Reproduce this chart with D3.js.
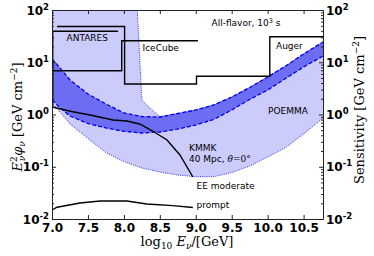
<!DOCTYPE html>
<html>
<head>
<meta charset="utf-8">
<script src="https://cdn.jsdelivr.net/npm/d3@7"></script>
<style>
body{margin:0;background:#fff}
text{font-family:"DejaVu Sans",sans-serif;fill:#000}
.serif{font-family:"DejaVu Serif",serif}
</style>
</head>
<body>
<svg id="chart" width="374" height="256"></svg>
<script>
//chart data

//POEMMA band, shared energies (log10 E / GeV)
var bandX = [7.0, 7.1, 7.25, 7.5, 7.75, 8.0, 8.25, 8.5, 8.75, 9.0, 9.25, 9.5, 9.75, 10.0, 10.25, 10.5, 10.77];
//dark band (dashed edges)
var poemmaHi = [11.5, 8.11, 4.57, 2.47, 1.59, 1.07, 0.916, 0.895, 1.045, 1.22, 1.52, 2.16, 3.29, 5.22, 8.48, 14.4, 24.4];
var poemmaLo = [1.90, 1.39, 0.936, 0.673, 0.552, 0.477, 0.443, 0.462, 0.527, 0.629, 0.802, 1.22, 1.94, 2.94, 4.89, 8.11, 13.2];
//light band (dotted edges)
var rangeLo = [1.66, 1.17, 0.658, 0.347, 0.187, 0.126, 0.0946, 0.0794, 0.0695, 0.0645, 0.0645, 0.0776, 0.103, 0.154, 0.233, 0.424, 0.857];
var rangeHiX = [7.0, 8.18, 8.25, 8.33, 8.5, 8.75, 9.0, 9.25, 9.5, 9.75, 10.0, 10.25, 10.5, 10.77];
var rangeHi = [150, 150, 1.89, 1.46, 0.91, 1.045, 1.22, 1.52, 2.16, 3.29, 5.22, 8.48, 14.4, 24.4];

//step sensitivities
var stepAX = [7.07, 8.01, 8.01, 9.01, 9.01, 10.03, 10.03, 10.77];
var stepAY = [48.3, 48.3, 3.84, 3.84, 5.38, 5.38, 30.8, 30.8];
var stepBX = [7.01, 7.97, 7.97, 9.03];
var stepBY = [6.89, 6.89, 25.8, 25.8];
var antaresX = [7.92, 7.01, 7.01];
var antaresY = [39.1, 39.1, 1.39];

//model fluxes
var kmmkX = [7.0, 7.29, 7.53, 7.85, 8.04, 8.22, 8.40, 8.60, 8.78, 8.96];
var kmmkY = [1.39, 1.13, 0.977, 0.785, 0.75, 0.658, 0.483, 0.325, 0.168, 0.0637];
var promptX = [7.0, 7.07, 7.39, 7.67, 7.76, 8.04, 8.32, 8.68, 8.96];
var promptY = [0.0149, 0.0168, 0.0202, 0.0221, 0.0221, 0.0221, 0.0194, 0.018, 0.0166];

//ticks
var xTicks = [7.0, 7.5, 8.0, 8.5, 9.0, 9.5, 10.0, 10.5];
var yTicks = [1e-2, 1e-1, 1, 10, 100];
var yTickExp = ["-2", "-1", "0", "1", "2"];

//plot box (window.top is reserved, so prefixed names)
var pLeft = 52, pRight = 323, pTop = 10, pBottom = 219;

var x = d3.scaleLinear().domain([7, 10.77]).range([pLeft, pRight]);
var y = d3.scaleLog().domain([1e-2, 1e2]).range([pBottom, pTop]);

var svg = d3.select("#chart");

svg.append("clipPath").attr("id", "plotclip")
	.append("rect").attr("x", pLeft).attr("y", pTop)
	.attr("width", pRight - pLeft).attr("height", pBottom - pTop);

var plot = svg.append("g").attr("clip-path", "url(#plotclip)");

function zipXY(xs, ys){
	return xs.map(function(v, i){ return {x: v, y: ys[i]}; });
}

var line = d3.line()
		.x(function(d){ return x(d.x); })
		.y(function(d){ return y(d.y); });

//light band polygon: upper edge forward, lower edge back
var rangePoly = zipXY(rangeHiX, rangeHi).concat(zipXY(bandX, rangeLo).reverse());
plot.append("path").attr("d", line(rangePoly) + "Z")
	.attr("fill", "#cbcbfc").attr("stroke", "none");

var band = d3.area()
		.x(function(d){ return x(d.x); })
		.y0(function(d){ return y(d.lo); })
		.y1(function(d){ return y(d.hi); });
var bandData = bandX.map(function(v, i){ return {x: v, lo: poemmaLo[i], hi: poemmaHi[i]}; });
plot.append("path").attr("d", band(bandData))
	.attr("fill", "#6d6df4").attr("stroke", "none");

//dotted edges
[zipXY(rangeHiX, rangeHi), zipXY(bandX, rangeLo)].forEach(function(d){
	plot.append("path").attr("d", line(d))
		.attr("fill", "none").attr("stroke", "#2f2fff")
		.attr("stroke-width", 1).attr("stroke-dasharray", "1,1.2");
});
//dashed edges
[zipXY(bandX, poemmaHi), zipXY(bandX, poemmaLo)].forEach(function(d){
	plot.append("path").attr("d", line(d))
		.attr("fill", "none").attr("stroke", "#0000f0")
		.attr("stroke-width", 1.3).attr("stroke-dasharray", "4,2");
});

//black lines
[[stepAX, stepAY], [stepBX, stepBY], [antaresX, antaresY], [kmmkX, kmmkY], [promptX, promptY]].forEach(function(s){
	plot.append("path").attr("d", line(zipXY(s[0], s[1])))
		.attr("fill", "none").attr("stroke", "#000")
		.attr("stroke-width", 1.4);
});

//axes
var minorTicks = [];
[1e-2, 1e-1, 1, 10].forEach(function(dec){
	for (var k = 2; k < 10; k++) minorTicks.push(dec * k);
});

function styleAxis(g){
	g.selectAll("path.domain").attr("stroke", "#222").attr("stroke-width", 1);
	g.selectAll(".tick line").attr("stroke", "#222");
}

svg.append("g").attr("transform", "translate(0," + pBottom + ")")
	.call(d3.axisBottom(x).tickValues(xTicks).tickSize(-4).tickSizeOuter(0).tickPadding(4)
		.tickFormat(d3.format(".1f")))
	.call(styleAxis)
	.selectAll("text").attr("font-size", 12).attr("font-weight", "bold")
	.style("font-family", "DejaVu Sans");

svg.append("g").attr("transform", "translate(0," + pTop + ")")
	.call(d3.axisTop(x).tickValues(xTicks).tickSize(-4).tickSizeOuter(0).tickFormat(""))
	.call(styleAxis);

[[d3.axisLeft, pLeft], [d3.axisRight, pRight]].forEach(function(a){
	svg.append("g").attr("transform", "translate(" + a[1] + ",0)")
		.call(a[0](y).tickValues(yTicks).tickSize(-4).tickSizeOuter(0).tickFormat(""))
		.call(styleAxis);
	svg.append("g").attr("transform", "translate(" + a[1] + ",0)")
		.call(a[0](y).tickValues(minorTicks).tickSize(-2).tickSizeOuter(0).tickFormat(""))
		.call(styleAxis)
		.select("path.domain").remove();
});

//y tick labels with exponents
function powLabel(sel, xpos, anchor){
	sel.attr("x", xpos).attr("text-anchor", anchor)
		.attr("dy", "0.38em").attr("font-size", 12).attr("font-weight", "bold");
	sel.append("tspan").text("10");
	sel.append("tspan").attr("font-size", 8.5).attr("dy", -5)
		.text(function(d, i){ return yTickExp[i]; });
}
svg.append("g").selectAll("text").data(yTicks).enter().append("text")
	.attr("y", function(d){ return y(d); })
	.call(powLabel, 49, "end");
svg.append("g").selectAll("text").data(yTicks).enter().append("text")
	.attr("y", function(d){ return y(d); })
	.call(powLabel, 326, "start");

//axis titles
var xl = svg.append("text").attr("class", "serif").attr("x", 187).attr("y", 246)
	.attr("text-anchor", "middle").attr("font-size", 13);
xl.append("tspan").text("log");
xl.append("tspan").attr("font-size", 9).attr("dy", 3).text("10");
xl.append("tspan").attr("dy", -3).attr("font-style", "italic").text(" E");
xl.append("tspan").attr("font-size", 9).attr("dy", 3).attr("font-style", "italic").text("ν");
xl.append("tspan").attr("dy", -3).text("/[GeV]");

var yl = svg.append("text").attr("class", "serif")
	.attr("transform", "translate(22,117) rotate(-90)")
	.attr("text-anchor", "middle").attr("font-size", 13);
yl.append("tspan").attr("font-style", "italic").text("E");
yl.append("tspan").attr("font-size", 9).attr("dy", -5).text("2");
yl.append("tspan").attr("font-size", 9).attr("dx", -5).attr("dy", 8).attr("font-style", "italic").text("ν");
yl.append("tspan").attr("dy", -3).attr("font-style", "italic").text("φ");
yl.append("tspan").attr("font-size", 9).attr("dy", 3).attr("font-style", "italic").text("ν");
yl.append("tspan").attr("dy", -3).text(" [GeV cm");
yl.append("tspan").attr("font-size", 9).attr("dy", -5).text("−2");
yl.append("tspan").attr("dy", 5).text("]");

var yr = svg.append("text").attr("class", "serif")
	.attr("transform", "translate(364,110) rotate(-90)")
	.attr("text-anchor", "middle").attr("font-size", 13);
yr.append("tspan").text("Sensitivity [GeV cm");
yr.append("tspan").attr("font-size", 9).attr("dy", -5).text("−2");
yr.append("tspan").attr("dy", 5).text("]");

//annotations
var notes = svg.append("g").attr("font-size", 9);
notes.append("text").attr("x", 66.5).attr("y", 41).text("ANTARES");
notes.append("text").attr("x", 142.5).attr("y", 51).text("IceCube");
notes.append("text").attr("x", 276).attr("y", 49).text("Auger");
notes.append("text").attr("x", 268).attr("y", 114).text("POEMMA");
notes.append("text").attr("x", 189).attr("y", 151).text("KMMK");
notes.append("text").attr("x", 196.5).attr("y", 189).text("EE moderate");
notes.append("text").attr("x", 196.5).attr("y", 207.5).text("prompt");

var af = notes.append("text").attr("x", 211.5).attr("y", 26);
af.append("tspan").text("All-flavor, 10");
af.append("tspan").attr("font-size", 6.5).attr("dy", -3.5).text("3");
af.append("tspan").attr("dy", 3.5).text(" s");

var mpc = notes.append("text").attr("x", 189).attr("y", 162);
mpc.append("tspan").text("40 Mpc, ");
mpc.append("tspan").attr("class", "serif").attr("font-style", "italic").text("θ");
mpc.append("tspan").attr("class", "serif").text("=0°");
</script>
</body>
</html>
